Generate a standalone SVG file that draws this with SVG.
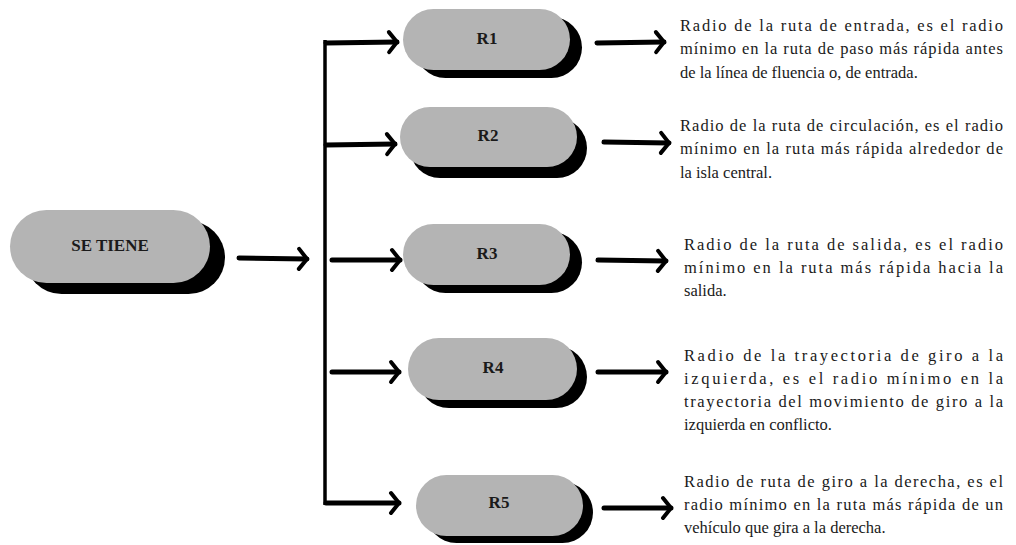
<svg xmlns="http://www.w3.org/2000/svg" width="1016" height="545" viewBox="0 0 1016 545">
<style>
.pill{fill:#b4b4b4}
.shadow{fill:#000}
.lbl{font-family:'Liberation Serif','DejaVu Serif',serif;font-weight:bold;font-size:17px;fill:#1a1a1a;text-anchor:middle}
.desc{font-family:'Liberation Serif','DejaVu Serif',serif;font-size:16.5px;fill:#1a1a1a}
.shaft{stroke:#000;stroke-width:5;stroke-linecap:round;fill:none}
.bus{stroke:#000;stroke-width:3.5;fill:none}
.head{stroke:#000;stroke-width:4;stroke-linecap:round;stroke-linejoin:round;fill:none}
</style>
<defs>
<marker id="arr" markerUnits="userSpaceOnUse" markerWidth="20" markerHeight="26" refX="12" refY="13" orient="auto" viewBox="0 0 20 26">
<polyline class="head" points="4,3 12,13 4,23"/>
</marker>
</defs>
<rect width="1016" height="545" fill="#fff"/>

<g id="connectors">
<line class="bus" x1="325" y1="40" x2="325" y2="505"/>
<path class="shaft" d="M239,258 L307,259" marker-end="url(#arr)"/>
<path class="shaft" d="M326,43 L397,42" marker-end="url(#arr)"/>
<path class="shaft" d="M326,145 L395,144" marker-end="url(#arr)"/>
<path class="shaft" d="M332,260 L400,260" marker-end="url(#arr)"/>
<path class="shaft" d="M332,372 L399,372" marker-end="url(#arr)"/>
<path class="shaft" d="M326,503 L399,503" marker-end="url(#arr)"/>
<path class="shaft" d="M597,43 L664,42" marker-end="url(#arr)"/>
<path class="shaft" d="M604,142 L669,143" marker-end="url(#arr)"/>
<path class="shaft" d="M598,260 L666,261" marker-end="url(#arr)"/>
<path class="shaft" d="M598,372 L666,372" marker-end="url(#arr)"/>
<path class="shaft" d="M604,508 L671,508" marker-end="url(#arr)"/>
</g>

<g id="node-setiene">
<rect class="shadow" x="25" y="221" width="200" height="73" rx="36.5"/>
<rect class="pill" x="10" y="210" width="200" height="73" rx="36.5"/>
<text class="lbl" x="110" y="251">SE TIENE</text>
</g>

<g id="node-r1">
<rect class="shadow" x="415" y="17" width="167" height="61" rx="30.5"/>
<rect class="pill" x="403" y="9" width="167" height="61" rx="30.5"/>
<text class="lbl" x="487" y="44">R1</text>
</g>

<g id="node-r2">
<rect class="shadow" x="410" y="118" width="177" height="60" rx="30"/>
<rect class="pill" x="400" y="107" width="177" height="60" rx="30"/>
<text class="lbl" x="488" y="141">R2</text>
</g>

<g id="node-r3">
<rect class="shadow" x="415" y="232" width="167" height="61" rx="30.5"/>
<rect class="pill" x="403" y="224" width="167" height="61" rx="30.5"/>
<text class="lbl" x="487" y="259">R3</text>
</g>

<g id="node-r4">
<rect class="shadow" x="418" y="346" width="169" height="62" rx="31"/>
<rect class="pill" x="408" y="338" width="169" height="62" rx="31"/>
<text class="lbl" x="493" y="373">R4</text>
</g>

<g id="node-r5">
<rect class="shadow" x="426" y="482" width="167" height="61" rx="30.5"/>
<rect class="pill" x="416" y="475" width="167" height="61" rx="30.5"/>
<text class="lbl" x="499" y="508">R5</text>
</g>

<g id="text-r1">
<text class="desc" x="680" y="31" textLength="323" lengthAdjust="spacing">Radio de la ruta de entrada, es el radio</text>
<text class="desc" x="680" y="54" textLength="323" lengthAdjust="spacing">mínimo en la ruta de paso más rápida antes</text>
<text class="desc" x="680" y="78">de la línea de fluencia o, de entrada.</text>
</g>

<g id="text-r2">
<text class="desc" x="680" y="131" textLength="323" lengthAdjust="spacing">Radio de la ruta de circulación, es el radio</text>
<text class="desc" x="680" y="154" textLength="323" lengthAdjust="spacing">mínimo en la ruta más rápida alrededor de</text>
<text class="desc" x="680" y="178">la isla central.</text>
</g>

<g id="text-r3">
<text class="desc" x="684" y="250" textLength="319" lengthAdjust="spacing">Radio de la ruta de salida, es el radio</text>
<text class="desc" x="684" y="273" textLength="319" lengthAdjust="spacing">mínimo en la ruta más rápida hacia la</text>
<text class="desc" x="684" y="296">salida.</text>
</g>

<g id="text-r4">
<text class="desc" x="684" y="361" textLength="319" lengthAdjust="spacing">Radio de la trayectoria de giro a la</text>
<text class="desc" x="684" y="384" textLength="319" lengthAdjust="spacing">izquierda, es el radio mínimo en la</text>
<text class="desc" x="684" y="407" textLength="319" lengthAdjust="spacing">trayectoria del movimiento de giro a la</text>
<text class="desc" x="684" y="430">izquierda en conflicto.</text>
</g>

<g id="text-r5">
<text class="desc" x="684" y="487" textLength="319" lengthAdjust="spacing">Radio de ruta de giro a la derecha, es el</text>
<text class="desc" x="684" y="510" textLength="319" lengthAdjust="spacing">radio mínimo en la ruta más rápida de un</text>
<text class="desc" x="684" y="533">vehículo que gira a la derecha.</text>
</g>
</svg>
